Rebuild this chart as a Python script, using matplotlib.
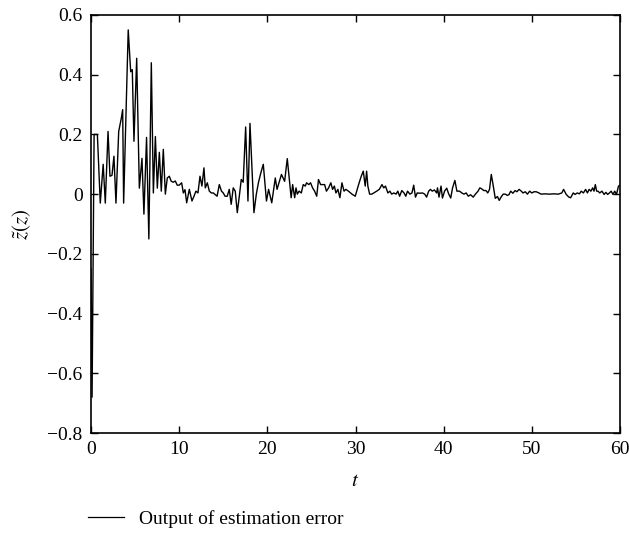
import numpy as np
import matplotlib
matplotlib.use("Agg")
import matplotlib.pyplot as plt
from matplotlib.lines import Line2D

# time instants (s)
t_vals = [
    0.0, 0.12, 0.35, 0.72, 1.05, 1.38, 1.62, 1.93, 2.15, 2.38, 2.6,
    2.83, 3.14, 3.44, 3.59, 3.7, 4.22, 4.5, 4.68, 4.87, 5.18,
    5.48, 5.78, 6.0, 6.3, 6.56, 6.84, 7.07, 7.3, 7.52, 7.75,
    7.97, 8.2, 8.43, 8.65, 8.88, 9.1, 9.33, 9.56, 9.78, 10.0,
    10.28, 10.47, 10.66, 10.85, 11.15, 11.45, 11.68, 11.9, 12.13, 12.36,
    12.58, 12.81, 12.96, 13.19, 13.42, 13.65, 13.87, 14.1, 14.3, 14.55,
    14.8, 15.0, 15.2, 15.45, 15.68, 15.9, 16.13, 16.36, 16.59, 16.8,
    17.04, 17.26, 17.54, 17.8, 18.03, 18.48, 18.75, 19.0, 19.25, 19.54,
    19.9, 20.14, 20.5, 20.9, 21.1, 21.6, 21.96, 22.26, 22.7, 22.87,
    23.1, 23.25, 23.4, 23.6, 23.85, 24.07, 24.3, 24.45, 24.7, 24.9,
    25.13, 25.36, 25.6, 25.8, 26.04, 26.27, 26.5, 26.7, 26.95, 27.2,
    27.4, 27.6, 27.78, 28.0, 28.23, 28.46, 28.7, 28.9, 29.2, 29.6,
    29.97, 30.35, 30.65, 30.88, 31.1, 31.26, 31.4, 31.6, 31.85, 32.07,
    32.4, 32.7, 33.0, 33.2, 33.4, 33.67, 33.9, 34.1, 34.35, 34.6,
    34.8, 35.0, 35.25, 35.5, 35.7, 35.9, 36.17, 36.4, 36.6, 36.8,
    37.0, 37.3, 37.6, 37.85, 38.06, 38.3, 38.5, 38.7, 38.95, 39.2,
    39.3, 39.47, 39.7, 39.86, 40.1, 40.35, 40.55, 40.8, 41.0, 41.27,
    41.5, 41.8, 42.06, 42.3, 42.55, 42.8, 43.05, 43.35, 43.6, 43.9,
    44.1, 44.3, 44.55, 44.8, 45.0, 45.2, 45.4, 45.6, 45.85, 46.1,
    46.3, 46.55, 46.75, 47.0, 47.2, 47.4, 47.6, 47.85, 48.1, 48.3,
    48.56, 48.8, 49.0, 49.25, 49.5, 49.75, 50.0, 50.25, 50.5, 50.8,
    51.05, 51.5, 52.0, 52.5, 53.0, 53.4, 53.6, 53.9, 54.2, 54.4,
    54.7, 54.9, 55.15, 55.4, 55.6, 55.85, 56.1, 56.3, 56.5, 56.7,
    56.9, 57.05, 57.2, 57.35, 57.5, 57.7, 57.95, 58.2, 58.4, 58.6,
    58.8, 59.0, 59.2, 59.4, 59.6, 59.83, 60.0,
]

# output of estimation error
err_vals = [
    -0.25, -0.68, 0.20, 0.20, -0.03, 0.10, -0.03, 0.21, 0.06, 0.063, 0.127,
    -0.03, 0.21, 0.255, 0.283, -0.03, 0.55, 0.41, 0.417, 0.177, 0.455,
    0.02, 0.12, -0.067, 0.19, -0.15, 0.44, 0.004, 0.193, 0.02, 0.14,
    0.01, 0.15, 0.0, 0.054, 0.06, 0.043, 0.04, 0.044, 0.03, 0.03,
    0.038, 0.004, 0.015, -0.029, 0.016, -0.023, -0.007, 0.01, 0.004, 0.06,
    0.027, 0.088, 0.021, 0.038, 0.01, 0.004, 0.004, -0.002, -0.007, 0.032,
    0.01, 0.004, -0.007, -0.007, 0.016, -0.034, 0.021, 0.01, -0.062, -0.012,
    0.049, 0.04, 0.225, -0.023, 0.237, -0.062, 0.0, 0.04, 0.07, 0.10,
    -0.023, 0.016, -0.029, 0.054, 0.016, 0.066, 0.043, 0.119, -0.012, 0.032,
    -0.012, 0.021, 0.0, 0.01, 0.004, 0.032, 0.027, 0.038, 0.032, 0.038,
    0.021, 0.01, -0.007, 0.049, 0.032, 0.032, 0.032, 0.01, 0.021, 0.038,
    0.016, 0.027, 0.004, 0.016, -0.012, 0.038, 0.01, 0.016, 0.01, 0.0,
    -0.007, 0.032, 0.06, 0.077, 0.027, 0.077, 0.027, 0.0, 0.0, 0.004,
    0.01, 0.016, 0.032, 0.021, 0.027, 0.004, 0.01, 0.0, 0.004, 0.0,
    0.01, -0.007, 0.012, 0.004, -0.007, 0.01, 0.0, 0.004, 0.03, -0.01,
    0.004, 0.003, 0.004, 0.0, -0.01, 0.01, 0.016, 0.01, 0.014, 0.004,
    0.021, -0.01, 0.027, -0.013, 0.01, 0.02, 0.002, -0.013, 0.02, 0.046,
    0.01, 0.01, 0.004, 0.0, 0.004, -0.007, -0.002, -0.01, 0.0, 0.01,
    0.021, 0.018, 0.012, 0.012, 0.004, 0.016, 0.066, 0.032, -0.014, -0.008,
    -0.021, -0.008, 0.0, 0.0, -0.004, -0.002, 0.01, 0.003, 0.012, 0.008,
    0.016, 0.01, 0.004, 0.008, 0.0, 0.01, 0.004, 0.008, 0.008, 0.004,
    0.0, 0.001, 0.0, 0.001, 0.0, 0.004, 0.016, -0.001, -0.01, -0.012,
    0.004, -0.001, 0.004, 0.001, 0.01, 0.004, 0.016, 0.004, 0.016, 0.01,
    0.021, 0.01, 0.032, 0.01, 0.01, 0.004, 0.01, -0.001, 0.006, -0.001,
    0.004, 0.01, -0.001, 0.01, -0.001, 0.027, 0.03,
]

x_ticks = [0, 10, 20, 30, 40, 50, 60]
y_ticks = [-0.8, -0.6, -0.4, -0.2, 0, 0.2, 0.4, 0.6]

plt.rcParams['font.family'] = ['Liberation Serif', 'DejaVu Serif']
plt.rcParams['mathtext.fontset'] = 'stix'

fig = plt.figure(figsize=(6.29, 5.41), dpi=100)
ax = fig.add_axes([0.1447, 0.1996, 0.841, 0.7727])

ax.plot(t_vals, err_vals, color='black', lw=1.0)

ax.set_xlim(0, 60)
ax.set_ylim(-0.8, 0.6)
ax.set_xticks(x_ticks)
ax.set_yticks(y_ticks)
ax.set_yticklabels(['\u22120.8', '\u22120.6', '\u22120.4', '\u22120.2', '0', '0.2', '0.4', '0.6'])
ax.tick_params(direction='in', top=True, right=True, length=5, width=1,
               labelsize=14, pad=6)
for sp in ax.spines.values():
    sp.set_linewidth(1.2)

ax.set_xlabel(r'$t$', fontsize=15, labelpad=10)
ax.set_ylabel(r'$\tilde{z}(z)$', fontsize=15, labelpad=10)

handle = Line2D([], [], color='black', lw=0.9)
fig.legend([handle], ['Output of estimation error'], loc='center left',
           bbox_to_anchor=(0.14, 0.04), frameon=False, fontsize=14,
           handlelength=1.85, handletextpad=0.75, borderpad=0, borderaxespad=0)

fig.savefig('out.png', dpi=100)
